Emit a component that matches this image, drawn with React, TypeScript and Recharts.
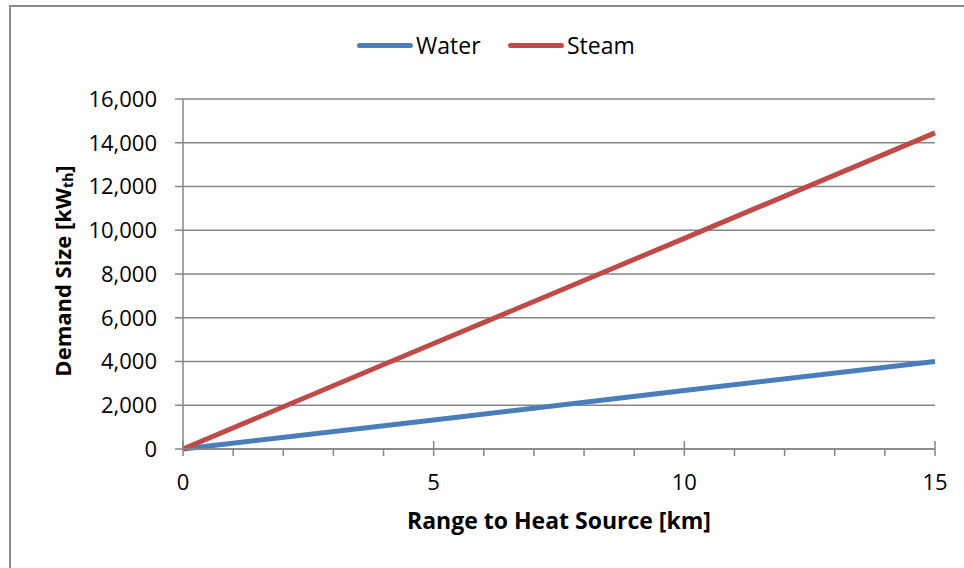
import React from 'react';
import { LineChart, Line, XAxis, YAxis, CartesianGrid, Label } from 'recharts';

const rangeKm = [0, 5, 10, 15];
const waterKw = [0, 1330, 2670, 4000];
const steamKw = [0, 4820, 9630, 14450];
const xTicks = [0, 1, 2, 3, 4, 5, 6, 7, 8, 9, 10, 11, 12, 13, 14, 15];
const yTicks = [0, 2000, 4000, 6000, 8000, 10000, 12000, 14000, 16000];

const data = rangeKm.map((km, i) => ({ km, water: waterKw[i], steam: steamKw[i] }));

const FONT = '"Open Sans", sans-serif';
const AXIS_GRAY = '#868686';
const BLUE = '#4a7ebb';
const RED = '#be4b48';

const XTick = (props: any) => {
  const { x, y, payload } = props;
  const major = payload.value % 5 === 0;
  return (
    <g>
      <line x1={x} x2={x} y1={major ? y - 8 : y} y2={y + 7} stroke={AXIS_GRAY} strokeWidth={1.5} />
      {major && (
        <text x={x} y={y + 41} textAnchor="middle" fontSize={22} fontFamily={FONT} fill="#000">
          {payload.value}
        </text>
      )}
    </g>
  );
};

const YTitle = () => {
  const cx = 62;
  const cy = 271;
  return (
    <text
      x={cx}
      y={cy}
      transform={`rotate(-90, ${cx}, ${cy})`}
      textAnchor="middle"
      dominantBaseline="central"
      fontFamily={FONT}
      fontSize={22}
      fontWeight="bold"
      fill="#000"
    >
      Demand Size [kW
      <tspan fontSize={14} dy={5}>th</tspan>
      <tspan dy={-5}>]</tspan>
    </text>
  );
};

export default function App() {
  return (
    <div style={{ position: 'fixed', left: 0, top: 0, width: 964, height: 568, background: '#fff' }}>
      <div
        style={{
          position: 'absolute',
          left: 9,
          top: 5,
          width: 1000,
          height: 600,
          border: '2px solid #8c8c8c',
        }}
      />
      <div
        style={{
          position: 'absolute',
          left: 357,
          top: 30,
          display: 'flex',
          alignItems: 'center',
          fontFamily: FONT,
          fontSize: 23,
          lineHeight: '30px',
          color: '#000',
        }}
      >
        <span style={{ width: 56, height: 5, background: BLUE, borderRadius: 3, marginRight: 3 }} />
        <span style={{ width: 62, marginRight: 30 }}>Water</span>
        <span style={{ width: 56, height: 5, background: RED, borderRadius: 3, marginRight: 3 }} />
        <span>Steam</span>
      </div>
      <LineChart
        width={964}
        height={568}
        data={data}
        margin={{ top: 99, right: 29, left: 0, bottom: 0 }}
        style={{ position: 'absolute', left: 0, top: 0 }}
      >
        <CartesianGrid vertical={false} stroke={AXIS_GRAY} strokeWidth={1.5} />
        <XAxis
          dataKey="km"
          type="number"
          domain={[0, 15]}
          ticks={xTicks}
          interval={0}
          height={119}
          tickSize={0}
          tickMargin={0}
          tickLine={false}
          tick={<XTick />}
          axisLine={{ stroke: AXIS_GRAY, strokeWidth: 1.5 }}
        >
          <Label
            value="Range to Heat Source [km]"
            position="insideTop"
            offset={64}
            style={{ fontFamily: FONT, fontSize: 23, fontWeight: 'bold', fill: '#000' }}
          />
        </XAxis>
        <YAxis
          type="number"
          domain={[0, 16000]}
          ticks={yTicks}
          interval={0}
          width={183}
          tickSize={8}
          tickMargin={18}
          tickFormatter={(v: number) => v.toLocaleString('en-US')}
          tick={{ fontFamily: FONT, fontSize: 22, fill: '#000' }}
          tickLine={{ stroke: AXIS_GRAY, strokeWidth: 1.5 }}
          axisLine={{ stroke: AXIS_GRAY, strokeWidth: 1.5 }}
        >
          <Label content={<YTitle />} />
        </YAxis>
        <Line
          dataKey="water"
          name="Water"
          stroke={BLUE}
          strokeWidth={5}
          dot={false}
          isAnimationActive={false}
        />
        <Line
          dataKey="steam"
          name="Steam"
          stroke={RED}
          strokeWidth={5}
          dot={false}
          isAnimationActive={false}
        />
      </LineChart>
    </div>
  );
}
